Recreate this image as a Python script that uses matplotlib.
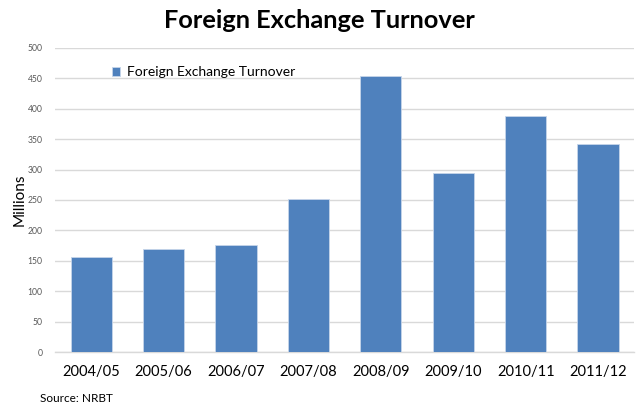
import matplotlib
matplotlib.use("Agg")
import matplotlib.pyplot as plt
import numpy as np

# data
years = ["2004/05", "2005/06", "2006/07", "2007/08", "2008/09", "2009/10", "2010/11", "2011/12"]
turnover = [157, 169, 176, 252, 454, 295, 388, 342]
yticks = [0, 50, 100, 150, 200, 250, 300, 350, 400, 450, 500]

plt.rcParams['font.family'] = ['Lato', 'DejaVu Sans']

fig = plt.figure(figsize=(6.38, 4.07), dpi=100)
ax = fig.add_axes([0.0862, 0.1344, 0.908, 0.7484])

x = np.arange(len(years))
ax.bar(x, turnover, width=0.57, color='#4F81BD', edgecolor='#c6d5ea', linewidth=0.6,
       label="Foreign Exchange Turnover", zorder=3)

ax.set_xlim(-0.5, len(years) - 0.5)
ax.set_ylim(0, 500)
ax.set_yticks(yticks)
ax.set_xticks(x, years)
ax.grid(axis='y', color='#d9d9d9', linewidth=1, zorder=0)

for s in ['top', 'right', 'left']:
    ax.spines[s].set_visible(False)
ax.spines['bottom'].set_color('#d9d9d9')
ax.spines['bottom'].set_linewidth(1)

ax.tick_params(axis='y', length=0, labelsize=6.2, labelcolor='#595959', pad=9)
ax.tick_params(axis='x', length=0, labelsize=10.5, labelcolor='#000000', pad=9)

ax.set_ylabel("Millions", fontsize=11)
ax.yaxis.set_label_coords(-0.049, 0.5)

ax.legend(loc='upper left', bbox_to_anchor=(0.077, 0.98), frameon=False, fontsize=10,
          handlelength=0.6, handleheight=0.6, handletextpad=0.5)

fig.text(0.5, 0.95, "Foreign Exchange Turnover", ha='center', va='center',
         fontsize=18.3, fontweight='bold')
fig.text(0.063, 0.022, "Source: NRBT", ha='left', va='center', fontsize=8.5)

fig.savefig("out.png", dpi=100)
